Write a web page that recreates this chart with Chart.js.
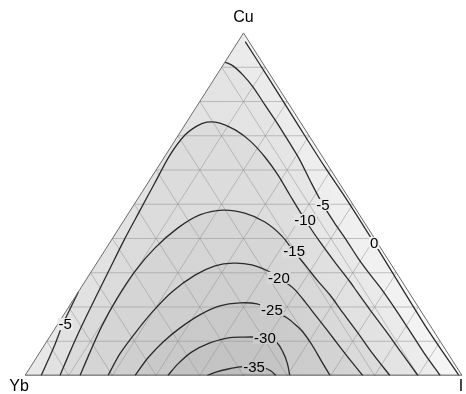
<!DOCTYPE html>
<html>
<head>
<meta charset="utf-8">
<script src="https://cdn.jsdelivr.net/npm/chart.js@4.4.1/dist/chart.umd.min.js"></script>
<style>
  html, body { margin: 0; padding: 0; background: #fff; }
  canvas { display: block; }
</style>
</head>
<body>
<canvas id="chart" width="466" height="394"></canvas>
<script>
// triangle frame: Yb = (0,0), I = (100,0), Cu = (50,100)
const corners = [
  { name: 'Yb', x: 0, y: 0 },
  { name: 'Cu', x: 50, y: 100 },
  { name: 'I', x: 100, y: 0 },
]
const gridSteps = [10, 20, 30, 40, 50, 60, 70, 80, 90]
const levels = ['0', '-5', '-10', '-15', '-20', '-25', '-30', '-35']

// contour lines as [x, y] in the triangle frame
const c0 = [[50.4, 97.5], [56.0, 86.3], [62.9, 72.3], [68.6, 60.9], [73.7, 51.2], [79.9, 38.7], [86.5, 25.0], [92.2, 13.3], [99.3, 0]]
const c5Left = [[3.7, 0], [5.3, 4.5], [6.9, 9.2], [8.5, 14.5], [10.3, 19.4], [12.2, 24.4]]
const c5Right = [[45.8, 91.5], [47.6, 90.4], [49.9, 87.7], [52.2, 84.2], [54.9, 79.0], [57.7, 73.7], [60.4, 68.2], [62.9, 62.9],
  [65.4, 56.5], [68.2, 49.8], [70.7, 44.8], [73.5, 39.6], [76.2, 34.3], [78.9, 29.6], [81.7, 25.0], [84.9, 19.1],
  [87.9, 13.3], [91.3, 6.6], [95.0, 0]]
const c10 = [[8.0, 0], [10.3, 6.9], [13.0, 14.5], [16.2, 22.9], [19.5, 31.4], [22.7, 39.6], [26.1, 47.7], [29.7, 56.2],
  [33.2, 64.4], [36.6, 70.2], [39.4, 72.9], [41.6, 74.0], [44.6, 73.7], [48.1, 71.7], [51.5, 68.5], [54.9, 63.8],
  [57.9, 58.5], [60.6, 52.7], [64.1, 45.4], [67.5, 39.0], [70.9, 33.1], [74.4, 27.3], [76.0, 24.4], [79.0, 19.1],
  [82.4, 13.3], [86.0, 6.9], [89.9, 0]]
const c15 = [[12.6, 0], [14.9, 6.9], [17.6, 14.5], [21.1, 22.6], [25.2, 30.5], [29.7, 37.2], [35.0, 43.1], [40.0, 46.9],
  [45.3, 48.3], [50.3, 47.4], [54.9, 44.8], [58.8, 40.7], [61.6, 36.1], [64.1, 32.3], [66.8, 27.9], [69.8, 23.5],
  [72.8, 18.2], [76.2, 12.4], [79.6, 6.3], [83.5, 0]]
const c20 = [[19.0, 0], [21.7, 6.3], [25.2, 12.4], [29.1, 18.5], [33.6, 24.4], [38.9, 29.3], [43.5, 32.0], [47.6, 32.8],
  [51.9, 32.3], [55.6, 30.5], [58.1, 28.5], [60.2, 26.7], [61.8, 25.0], [64.1, 21.5], [66.4, 17.7], [69.1, 13.3],
  [72.1, 8.3], [74.8, 3.9], [77.3, 0]]
const c25 = [[25.2, 0], [28.1, 5.1], [31.6, 9.8], [35.5, 13.9], [40.0, 17.7], [44.6, 20.3], [49.2, 21.2], [53.1, 20.9],
  [56.5, 19.1], [60.0, 16.8], [62.0, 14.7], [63.6, 12.7], [65.7, 8.9], [67.7, 4.5], [69.8, 0]]
const c30 = [[32.7, 0], [35.0, 3.4], [38.2, 6.9], [42.3, 9.5], [46.5, 11.0], [49.9, 11.2], [52.9, 11.2], [55.6, 10.7],
  [57.7, 9.5], [59.0, 6.9], [60.0, 3.7], [60.6, 0]]
const c35 = [[41.7, 0], [43.7, 1.0], [46.5, 1.9], [49.2, 2.5], [51.9, 2.5], [54.7, 2.2], [56.3, 1.3], [57.4, 0]]

const contourLabels = [
  { level: '-5', x: 68.2, y: 49.8 },
  { level: '-10', x: 64.1, y: 45.4 },
  { level: '0', x: 79.9, y: 38.7 },
  { level: '-15', x: 61.6, y: 36.1 },
  { level: '-20', x: 58.1, y: 28.5 },
  { level: '-25', x: 56.5, y: 19.1 },
  { level: '-30', x: 54.9, y: 10.95 },
  { level: '-35', x: 52.4, y: 2.5 },
  { level: '-5', x: 9.2, y: 15.0 },
]

const toPts = (arr) => arr.map((p) => (Array.isArray(p) ? { x: p[0], y: p[1] } : { x: p.x, y: p.y }))
const baseGray = 244
const layerAlpha = 0.028
const shade = (depth) => {
  const g = Math.round(baseGray * Math.pow(1 - layerAlpha, depth))
  return 'rgb(' + g + ',' + g + ',' + g + ')'
}

function fillSet(points) {
  return {
    data: toPts(points),
    showLine: true,
    pointRadius: 0,
    borderWidth: 0,
    borderColor: 'rgba(0,0,0,0)',
    backgroundColor: 'rgba(0,0,0,' + layerAlpha + ')',
    fill: 'origin',
    tension: 0,
    order: 3,
  }
}

function lineSet(points, color, width, tension) {
  return {
    data: toPts(points),
    showLine: true,
    pointRadius: 0,
    borderWidth: width,
    borderColor: color,
    fill: false,
    tension: tension,
    order: 1,
  }
}

const contours = [c0, c5Left, c5Right, c10, c15, c20, c25, c30, c35]
const datasets = []

// shaded regions, one translucent layer per level
datasets.push(fillSet([corners[0], corners[1]].concat(c0)))
datasets.push(fillSet(c5Left.concat(c5Right)))
;[c10, c15, c20, c25, c30, c35].forEach((c) => datasets.push(fillSet(c)))

// ternary grid
gridSteps.forEach((t) => {
  const grid = 'rgba(150,150,150,0.55)'
  datasets.push(Object.assign(lineSet([[t / 2, t], [100 - t / 2, t]], grid, 1, 0), { order: 2 }))
  datasets.push(Object.assign(lineSet([[t, 0], [t + (100 - t) / 2, 100 - t]], grid, 1, 0), { order: 2 }))
  datasets.push(Object.assign(lineSet([[t, 0], [t / 2, t]], grid, 1, 0), { order: 2 }))
})

// triangle edges
datasets.push(lineSet(corners, '#6a6a6a', 1, 0))
datasets.push(lineSet([corners[0], corners[2]], '#222', 1.6, 0))

contours.forEach((c) => datasets.push(lineSet(c, '#2b2b2b', 1.3, 0.3)))

const triangleBackground = {
  id: 'triangleBackground',
  beforeDatasetsDraw(chart) {
    const { ctx } = chart
    const { x, y } = chart.scales
    ctx.save()
    ctx.beginPath()
    corners.forEach((c, i) => {
      const px = x.getPixelForValue(c.x)
      const py = y.getPixelForValue(c.y)
      if (i) ctx.lineTo(px, py)
      else ctx.moveTo(px, py)
    })
    ctx.closePath()
    const grad = ctx.createLinearGradient(chart.chartArea.left, 0, chart.chartArea.right, 0)
    grad.addColorStop(0, '#efefef')
    grad.addColorStop(0.55, '#f2f2f2')
    grad.addColorStop(1, '#fcfcfc')
    ctx.fillStyle = grad
    ctx.fill()
    ctx.restore()
  },
}

const textLabels = {
  id: 'textLabels',
  afterDatasetsDraw(chart) {
    const { ctx } = chart
    const { x, y } = chart.scales
    ctx.save()
    ctx.textAlign = 'center'
    ctx.textBaseline = 'middle'

    ctx.font = '15px "Liberation Sans", Arial, sans-serif'
    contourLabels.forEach((l) => {
      const px = x.getPixelForValue(l.x)
      const py = y.getPixelForValue(l.y)
      const w = ctx.measureText(l.level).width
      ctx.fillStyle = shade(levels.indexOf(l.level) + 0.5)
      ctx.fillRect(px - w / 2 - 1, py - 6, w + 2, 12)
      ctx.fillStyle = '#000'
      ctx.fillText(l.level, px, py + 0.5)
    })

    ctx.font = '16px "Liberation Sans", Arial, sans-serif'
    const offsets = { Cu: [0, -15], Yb: [-6, 11], I: [-1, 11] }
    corners.forEach((c) => {
      const px = x.getPixelForValue(c.x) + offsets[c.name][0]
      const py = y.getPixelForValue(c.y) + offsets[c.name][1]
      ctx.fillText(c.name, px, py)
    })
    ctx.restore()
  },
}

new Chart(document.getElementById('chart'), {
  type: 'scatter',
  data: { datasets: datasets },
  options: {
    responsive: false,
    animation: false,
    layout: { padding: { left: 25, right: 4, top: 33, bottom: 18.5 } },
    plugins: {
      legend: { display: false },
      tooltip: { enabled: false },
    },
    scales: {
      x: { type: 'linear', min: 0, max: 100, display: false },
      y: { type: 'linear', min: 0, max: 100, display: false },
    },
  },
  plugins: [triangleBackground, textLabels],
})
</script>
</body>
</html>
